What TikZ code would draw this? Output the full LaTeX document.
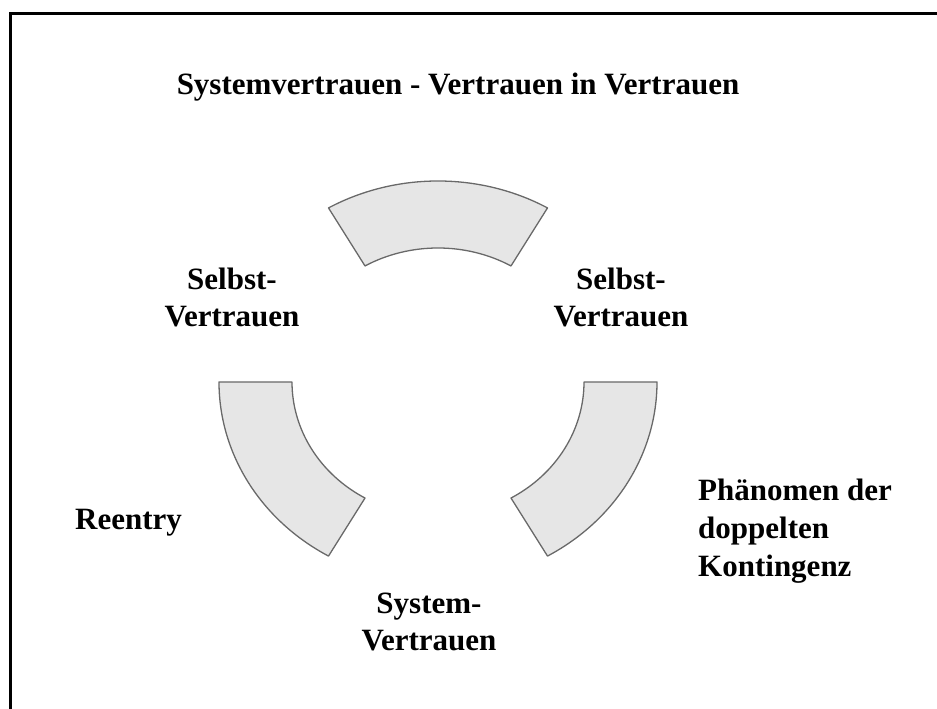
\documentclass[tikz,border=0pt]{standalone}
\usepackage{fontspec}
\setmainfont{Liberation Serif}
\usetikzlibrary{calc}
\definecolor{segfill}{RGB}{230,230,230}
\definecolor{segline}{RGB}{105,105,105}
\begin{document}
\begin{tikzpicture}[x=1pt,y=1pt,
  segment/.style={fill=segfill,draw=segline,line width=1.3pt,line join=round},
  label/.style={inner sep=0pt,font=\bfseries\fontsize{31}{37}\selectfont},
  frame/.style={line width=3pt,line cap=rect}]
\useasboundingbox (0,0) rectangle (937,709);

% frame: only the top and left edges are visible
\draw[frame] (10.5,0) -- (10.5,695.5) -- (937,695.5);

% centre of the ring of segments
\coordinate (c) at (438,327);

% three ring segments, each spanning 60 degrees
\foreach \a in {60,180,300}{
  \pgfmathsetmacro{\b}{\a+60}
  \draw[segment] ($(c)+(\a:219pt and 201pt)$)
      arc[start angle=\a,end angle=\b,x radius=219pt,y radius=201pt]
      -- ($(c)+(\b:146pt and 134pt)$)
      arc[start angle=\b,end angle=\a,x radius=146pt,y radius=134pt]
      -- cycle;
}

% labels (base anchor sits on the last line of multi-line text)
\node[label,anchor=base] (title) at (458,614) {Systemvertrauen - Vertrauen in Vertrauen};
\node[label,anchor=base,align=center] (selbstl) at (232,382) {Selbst-\\Vertrauen};
\node[label,anchor=base,align=center] (selbstr) at (621,382) {Selbst-\\Vertrauen};
\node[label,anchor=base west] (reentry) at (75,179) {Reentry};
\node[label,anchor=base west,align=left,font=\bfseries\fontsize{31}{38}\selectfont] (phaen) at (698,132) {Phänomen der\\doppelten\\Kontingenz};
\node[label,anchor=base,align=center] (system) at (429,58) {System-\\Vertrauen};
\end{tikzpicture}
\end{document}
